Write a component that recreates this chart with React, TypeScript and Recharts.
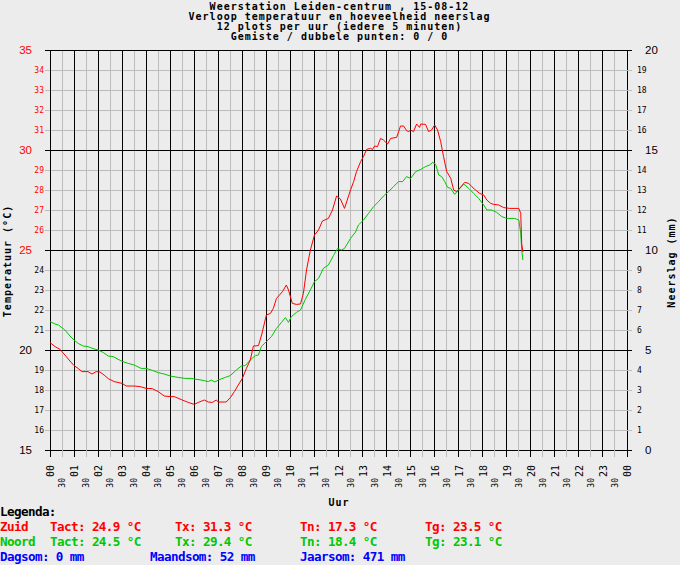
import React from "react";
import { LineChart, Line, XAxis, YAxis, CartesianGrid } from "recharts";

// Time of day (hours) and temperature (°C) for station Zuid (red)
const zuidTimes = [
  0.0, 0.21, 0.42, 0.62, 0.83, 1.0, 1.17, 1.33, 1.58, 1.75, 1.92, 2.08, 2.25, 2.42, 2.67, 3.0, 3.17, 3.5, 3.75, 4.0,
  4.25, 4.5, 4.75, 5.0, 5.17, 5.5, 5.75, 6.0, 6.17, 6.42, 6.58, 6.75, 6.92, 7.0, 7.33, 7.5, 7.67, 7.83, 8.0, 8.17,
  8.33, 8.46, 8.67, 8.8, 9.0, 9.17, 9.29, 9.42, 9.67, 9.83, 9.92, 10.08, 10.25, 10.42, 10.54, 10.67, 10.83, 11.0, 11.17, 11.33,
  11.58, 11.75, 11.92, 12.08, 12.25, 12.5, 12.63, 12.75, 12.92, 13.04, 13.17, 13.33, 13.42, 13.5, 13.62, 13.75, 13.87, 14.04, 14.17, 14.42,
  14.58, 14.71, 14.83, 14.92, 15.0, 15.12, 15.25, 15.37, 15.42, 15.62, 15.75, 15.87, 16.0, 16.12, 16.25, 16.37, 16.5, 16.67, 16.79, 16.92,
  17.0, 17.12, 17.25, 17.42, 17.54, 17.67, 17.87, 18.04, 18.17, 18.33, 18.46, 18.67, 18.87, 19.12, 19.5, 19.58, 19.62, 19.67,
];
const zuidTemps = [
  20.37, 20.17, 20.03, 19.75, 19.45, 19.22, 19.08, 18.92, 18.92, 18.8, 18.92, 18.9, 18.75, 18.57, 18.42, 18.33, 18.2, 18.2, 18.17, 18.08,
  18.07, 17.92, 17.7, 17.67, 17.67, 17.5, 17.38, 17.28, 17.38, 17.5, 17.4, 17.38, 17.5, 17.4, 17.4, 17.62, 17.92, 18.25, 18.58, 19.08,
  19.5, 20.2, 20.22, 20.75, 21.75, 21.83, 22.08, 22.58, 22.92, 23.25, 23.0, 22.33, 22.28, 22.3, 22.83, 24.0, 25.0, 25.75, 26.0, 26.45,
  26.58, 27.0, 27.7, 27.55, 27.08, 28.0, 28.42, 28.92, 29.42, 29.67, 30.03, 30.08, 30.03, 30.2, 30.17, 30.58, 30.5, 30.3, 30.58, 30.63,
  31.2, 31.2, 30.97, 30.92, 31.0, 30.92, 31.3, 31.13, 31.3, 31.28, 30.92, 31.0, 31.25, 31.0, 30.42, 29.67, 28.92, 28.58, 28.0, 27.92,
  28.03, 28.2, 28.38, 28.33, 28.17, 28.03, 27.83, 27.75, 27.5, 27.33, 27.28, 27.25, 27.12, 27.08, 27.08, 26.83, 25.33, 24.9,
];

// Time of day (hours) and temperature (°C) for station Noord (green)
const noordTimes = [
  0.0, 0.21, 0.35, 0.62, 0.83, 1.0, 1.17, 1.38, 1.58, 1.79, 2.0, 2.21, 2.42, 2.62, 3.0, 3.25, 3.5, 3.79, 4.0, 4.21,
  4.5, 4.75, 5.0, 5.33, 5.62, 5.9, 6.0, 6.29, 6.58, 6.71, 6.86, 7.0, 7.29, 7.5, 7.75, 7.96, 8.12, 8.33, 8.54, 8.67,
  8.79, 9.0, 9.21, 9.42, 9.62, 9.79, 9.92, 10.04, 10.25, 10.42, 10.62, 10.83, 11.0, 11.17, 11.37, 11.58, 11.79, 11.96, 12.12, 12.25,
  12.5, 12.71, 12.83, 13.04, 13.25, 13.46, 13.67, 13.87, 14.08, 14.29, 14.5, 14.67, 14.83, 15.0, 15.21, 15.42, 15.62, 15.79, 15.92, 16.04,
  16.17, 16.29, 16.42, 16.54, 16.67, 16.83, 17.21, 17.42, 17.62, 17.83, 18.04, 18.17, 18.37, 18.58, 18.79, 19.0, 19.33, 19.5, 19.58, 19.62,
  19.67,
];
const noordTemps = [
  21.42, 21.3, 21.25, 21.0, 20.7, 20.5, 20.33, 20.2, 20.17, 20.07, 20.0, 19.88, 19.7, 19.67, 19.43, 19.33, 19.25, 19.08, 19.08, 19.0,
  18.87, 18.8, 18.7, 18.63, 18.58, 18.58, 18.55, 18.5, 18.42, 18.5, 18.4, 18.5, 18.63, 18.72, 19.0, 19.2, 19.22, 19.5, 19.72, 19.75,
  20.17, 20.42, 20.67, 21.08, 21.37, 21.62, 21.38, 21.67, 21.88, 22.0, 22.53, 23.0, 23.42, 23.58, 24.08, 24.25, 24.72, 25.08, 25.0, 25.08,
  25.58, 25.9, 26.25, 26.5, 26.83, 27.17, 27.42, 27.7, 27.92, 28.17, 28.42, 28.42, 28.67, 28.58, 28.92, 29.03, 29.17, 29.25, 29.38, 29.28,
  28.75, 28.67, 28.42, 28.13, 28.08, 27.78, 28.3, 28.08, 27.83, 27.58, 27.25, 27.0, 27.0, 26.88, 26.67, 26.58, 26.58, 26.5, 25.83, 25.0,
  24.5,
];

const hourLabels = [
  "00", "01", "02", "03", "04", "05", "06", "07", "08", "09", "10", "11",
  "12", "13", "14", "15", "16", "17", "18", "19", "20", "21", "22", "23", "00",
];
const halfLabel = "30";
const tempTicks = [15, 16, 17, 18, 19, 20, 21, 22, 23, 24, 25, 26, 27, 28, 29, 30, 31, 32, 33, 34, 35];
const rainTicks = [0, 1, 2, 3, 4, 5, 6, 7, 8, 9, 10, 11, 12, 13, 14, 15, 16, 17, 18, 19, 20];

const titleLines = [
  "Weerstation Leiden-centrum , 15-08-12",
  "Verloop temperatuur en hoeveelheid neerslag",
  "12 plots per uur (iedere 5 minuten)",
  "Gemiste / dubbele punten: 0 / 0",
];

const zuidStats = ["Zuid", "Tact: 24.9 °C", "Tx: 31.3 °C", "Tn: 17.3 °C", "Tg: 23.5 °C"];
const noordStats = ["Noord", "Tact: 24.5 °C", "Tx: 29.4 °C", "Tn: 18.4 °C", "Tg: 23.1 °C"];
const rainStats = ["Dagsom: 0 mm", "Maandsom: 52 mm", "Jaarsom: 471 mm"];

const xTicks = hourLabels.flatMap((_, i) => (i < hourLabels.length - 1 ? [i, i + 0.5] : [i]));
const hourValues = xTicks.filter((v) => v % 1 === 0);
const halfValues = xTicks.filter((v) => v % 1 !== 0);
const majorTemps = tempTicks.filter((v) => v % 5 === 0);
const minorTemps = tempTicks.filter((v) => v % 5 !== 0);

const zuidData = zuidTimes.map((t, i) => ({ t, v: zuidTemps[i] }));
const noordData = noordTimes.map((t, i) => ({ t, v: noordTemps[i] }));

const RED = "#ff0000";
const GREEN = "#00c800";
const BLUE = "#0000ff";
const GRAY = "#bcbcbc";
const BG = "#ececec";
const MONO = "'DejaVu Sans Mono', monospace";
const SANS = "'Liberation Sans', Arial, sans-serif";

// small bold mono (title, axis titles): 7px advance, short glyphs
const smallBold = { fontFamily: MONO, fontWeight: "bold" as const, fontSize: 10, letterSpacing: 1 };
// legend bold mono: 7px advance, taller glyphs
const legendBold = { fontFamily: MONO, fontWeight: "bold" as const, fontSize: 12.6, letterSpacing: -0.6 };

const LeftTick = (props: any) => {
  const { x, y, payload } = props;
  const v = payload.value as number;
  const major = v % 5 === 0;
  const color = v >= 25 ? RED : "#000";
  return (
    <g>
      <line x1={x - 5} x2={x} y1={y} y2={y} stroke={major ? "#000" : GRAY} shapeRendering="crispEdges" />
      <text
        x={major ? x - 18 : x - 6}
        y={y}
        dy={major ? 4 : 3}
        textAnchor="end"
        fill={color}
        fontFamily={major ? SANS : MONO}
        fontSize={major ? 11.5 : 8}
      >
        {v}
      </text>
    </g>
  );
};

const RightTick = (props: any) => {
  const { x, y, payload } = props;
  const v = payload.value as number;
  const major = v % 5 === 0;
  return (
    <g>
      <line x1={x} x2={x + 5} y1={y} y2={y} stroke={major ? "#000" : GRAY} shapeRendering="crispEdges" />
      <text
        x={major ? x + 18 : x + 10}
        y={y}
        dy={major ? 4 : 3}
        textAnchor="start"
        fill="#000"
        fontFamily={major ? SANS : MONO}
        fontSize={major ? 11.5 : 8}
      >
        {v}
      </text>
    </g>
  );
};

const BottomTick = (props: any) => {
  const { x, y, payload } = props;
  const v = payload.value as number;
  const hour = v % 1 === 0;
  return (
    <g>
      <line x1={x} x2={x} y1={y} y2={y + 7} stroke={hour ? "#000" : GRAY} shapeRendering="crispEdges" />
      {hour ? (
        <text
          transform={`translate(${x + 4},${y + 15}) rotate(-90)`}
          textAnchor="end"
          fontFamily={MONO}
          fontSize={10}
          fill="#000"
        >
          {hourLabels[v]}
        </text>
      ) : (
        <text
          transform={`translate(${x + 3},${y + 28}) rotate(-90)`}
          textAnchor="end"
          fontFamily={MONO}
          fontSize={8}
          fill="#000"
        >
          {halfLabel}
        </text>
      )}
    </g>
  );
};

const legendCols = [0, 50, 175, 300, 425];
const rainCols = [0, 150, 300];

export default function App() {
  return (
    <div style={{ position: "absolute", left: 0, top: 0, width: 680, height: 565, background: BG }}>
      <LineChart
        width={680}
        height={565}
        margin={{ top: 50, right: 0, bottom: 0, left: 0 }}
        style={{ position: "absolute", left: 0, top: 0 }}
      >
        <CartesianGrid
          yAxisId="t"
          horizontalValues={minorTemps}
          verticalValues={halfValues}
          stroke={GRAY}
          shapeRendering="crispEdges"
        />
        <CartesianGrid
          yAxisId="t"
          horizontalValues={majorTemps}
          verticalValues={hourValues}
          stroke="#000"
          shapeRendering="crispEdges"
        />
        <XAxis
          dataKey="t"
          type="number"
          domain={[0, 24]}
          ticks={xTicks}
          interval={0}
          height={115}
          axisLine={false}
          tickLine={false}
          tickSize={0}
          tickMargin={0}
          tick={<BottomTick />}
          allowDataOverflow
        />
        <YAxis
          yAxisId="t"
          orientation="left"
          domain={[15, 35]}
          ticks={tempTicks}
          interval={0}
          width={50}
          axisLine={false}
          tickLine={false}
          tickSize={0}
          tickMargin={0}
          tick={<LeftTick />}
          allowDataOverflow
        />
        <YAxis
          yAxisId="mm"
          orientation="right"
          domain={[0, 20]}
          ticks={rainTicks}
          interval={0}
          width={53}
          axisLine={false}
          tickLine={false}
          tickSize={0}
          tickMargin={0}
          tick={<RightTick />}
          allowDataOverflow
        />
        <Line
          yAxisId="t"
          data={noordData}
          dataKey="v"
          type="linear"
          stroke={GREEN}
          strokeWidth={1}
          dot={false}
          isAnimationActive={false}
        />
        <Line
          yAxisId="t"
          data={zuidData}
          dataKey="v"
          type="linear"
          stroke={RED}
          strokeWidth={1}
          dot={false}
          isAnimationActive={false}
        />
      </LineChart>
      <svg
        width={680}
        height={565}
        style={{ position: "absolute", left: 0, top: 0, pointerEvents: "none" }}
      >
        {titleLines.map((s, i) => (
          <text key={i} x={339.5} y={10.3 + i * 10} textAnchor="middle" fill="#000" {...smallBold}>
            {s}
          </text>
        ))}
        <text transform="translate(11,261) rotate(-90)" textAnchor="middle" fill="#000" {...smallBold}>
          Temperatuur (°C)
        </text>
        <text transform="translate(675,262) rotate(-90)" textAnchor="middle" fill="#000" {...smallBold}>
          Neerslag (mm)
        </text>
        <text x={339} y={506} textAnchor="middle" fill="#000" {...smallBold}>
          Uur
        </text>
        <text x={0} y={516} fill="#000" {...legendBold}>
          Legenda:
        </text>
        {zuidStats.map((s, i) => (
          <text key={"z" + i} x={legendCols[i]} y={531} fill={RED} {...legendBold}>
            {s}
          </text>
        ))}
        {noordStats.map((s, i) => (
          <text key={"n" + i} x={legendCols[i]} y={546} fill={GREEN} {...legendBold}>
            {s}
          </text>
        ))}
        {rainStats.map((s, i) => (
          <text key={"r" + i} x={rainCols[i]} y={561} fill={BLUE} {...legendBold}>
            {s}
          </text>
        ))}
      </svg>
    </div>
  );
}
